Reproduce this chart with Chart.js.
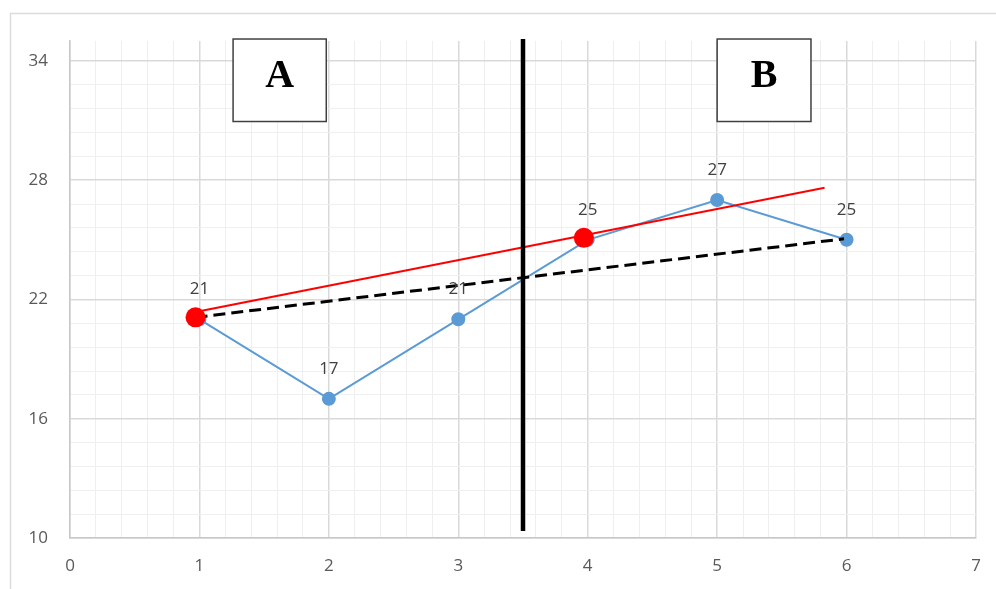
<!DOCTYPE html>
<html><head><meta charset="utf-8">
<script src="https://cdn.jsdelivr.net/npm/chart.js@4/dist/chart.umd.min.js"></script>
<style>html,body{margin:0;padding:0;background:#fff}canvas{display:block}</style>
</head><body>
<canvas id="c" width="996" height="589"></canvas>
<script>
// ---- data ----
const xValues = [1, 2, 3, 4, 5, 6];
const seriesValues = [21, 17, 21, 25, 27, 25];
const redPointX = [0.97, 3.97];
const redPointY = [21.1, 25.1];
const redLineX = [0.97, 5.83];
const redLineY = [21.37, 27.62];
const dashedLineX = [0.97, 5.98];
const dashedLineY = [21.1, 25.05];
const dividerX = [3.5, 3.5];
const dividerY = [10.35, 35.1];
const xTickLabels = [0, 1, 2, 3, 4, 5, 6, 7];
const yTickLabels = [10, 16, 22, 28, 34];
const boxLabels = ['A', 'B'];
const boxX0 = [1.26, 5.0];
const boxX1 = [1.98, 5.725];
const boxYTop = [35.1, 35.1];
const boxYBottom = [30.95, 30.95];

const pts = (xs, ys) => xs.map((x, i) => ({x, y: ys[i]}));
const FONT = "'Open Sans', 'Liberation Sans', sans-serif";

const frame = {
  id: 'frame',
  beforeDraw(chart) {
    const ctx = chart.ctx;
    ctx.save();
    ctx.strokeStyle = '#dcdcdc';
    ctx.lineWidth = 1.5;
    ctx.strokeRect(10.5, 13.5, 1100, 700);
    ctx.restore();
  }
};

const labelsPlugin = {
  id: 'dlabels',
  afterDatasetsDraw(chart) {
    const ctx = chart.ctx, xs = chart.scales.x, ys = chart.scales.y;
    ctx.save();
    ctx.fillStyle = '#404040';
    ctx.font = "17px " + FONT;
    ctx.textAlign = 'center';
    ctx.textBaseline = 'middle';
    seriesValues.forEach((v, i) => {
      ctx.fillText(String(v), xs.getPixelForValue(xValues[i]), ys.getPixelForValue(v) - 30);
    });
    ctx.restore();
  }
};

const boxesPlugin = {
  id: 'boxes',
  afterDraw(chart) {
    const ctx = chart.ctx, xs = chart.scales.x, ys = chart.scales.y;
    ctx.save();
    boxLabels.forEach((lab, i) => {
      const l = xs.getPixelForValue(boxX0[i]), r = xs.getPixelForValue(boxX1[i]);
      const t = ys.getPixelForValue(boxYTop[i]), b = ys.getPixelForValue(boxYBottom[i]);
      ctx.fillStyle = '#ffffff';
      ctx.fillRect(l, t, r - l, b - t);
      ctx.strokeStyle = '#404040';
      ctx.lineWidth = 1.5;
      ctx.strokeRect(l, t, r - l, b - t);
      ctx.fillStyle = '#000000';
      ctx.font = "bold 40px 'Liberation Serif', 'DejaVu Serif', serif";
      ctx.textAlign = 'center';
      ctx.textBaseline = 'alphabetic';
      ctx.fillText(lab, (l + r) / 2, t + 48);
    });
    ctx.restore();
  }
};

const xMinor = [];
for (let i = 0; i <= 35; i++) xMinor.push(Math.round(i * 0.2 * 100) / 100);
const yMinor = [];
for (let i = 0; i <= 20; i++) yMinor.push(Math.round((10 + i * 1.2) * 100) / 100);

const isMajor = (arr, v) => arr.some(a => Math.abs(a - v) < 1e-6);

new Chart(document.getElementById('c'), {
  type: 'scatter',
  data: {
    datasets: [
      { data: pts(dividerX, dividerY), showLine: true, borderColor: '#000', borderWidth: 4.5, pointRadius: 0, clip: false, borderCapStyle: 'butt' },
      { data: pts(redPointX, redPointY), showLine: false, pointRadius: 10, pointBackgroundColor: '#ff0000', pointBorderColor: '#ff0000', borderWidth: 0 },
      { data: pts(redLineX, redLineY), showLine: true, borderColor: '#ff0000', borderWidth: 2, pointRadius: 0 },
      { data: pts(dashedLineX, dashedLineY), showLine: true, borderColor: '#000', borderWidth: 3, borderDash: [12, 6], pointRadius: 0 },
      { data: pts(xValues, seriesValues), showLine: true, borderColor: '#5b9bd5', borderWidth: 2, pointRadius: 6, pointBackgroundColor: '#5b9bd5', pointBorderColor: '#5b9bd5' }
    ]
  },
  options: {
    responsive: false,
    animation: false,
    devicePixelRatio: 1,
    layout: { padding: { top: 41, right: 20, left: 0, bottom: 0 } },
    plugins: { legend: { display: false }, tooltip: { enabled: false } },
    scales: {
      x: {
        type: 'linear', min: 0, max: 7,
        afterBuildTicks: s => { s.ticks = xMinor.map(v => ({value: v})); },
        afterFit: s => { s.height = 51; s.paddingRight = 4; s.paddingLeft = 0; },
        ticks: {
          autoSkip: false, maxRotation: 0, padding: 18,
          color: '#595959', font: { family: FONT, size: 17 },
          callback: v => isMajor(xTickLabels, v) ? String(Math.round(v)) : ''
        },
        grid: {
          drawTicks: false,
          color: c => isMajor(xTickLabels, c.tick.value) ? '#d9d9d9' : '#efefef',
          lineWidth: c => isMajor(xTickLabels, c.tick.value) ? 1.5 : 1
        },
        border: { color: '#c8c8c8', width: 1.5 }
      },
      y: {
        type: 'linear', min: 10, max: 35,
        afterBuildTicks: s => { s.ticks = yMinor.map(v => ({value: v})); },
        afterFit: s => { s.width = 70; },
        ticks: {
          autoSkip: false, padding: 22,
          color: '#595959', font: { family: FONT, size: 17 },
          callback: v => isMajor(yTickLabels, v) ? String(Math.round(v)) : ''
        },
        grid: {
          drawTicks: false,
          color: c => isMajor(yTickLabels, c.tick.value) ? '#d9d9d9' : '#efefef',
          lineWidth: c => isMajor(yTickLabels, c.tick.value) ? 1.5 : 1
        },
        border: { color: '#c8c8c8', width: 1.5 }
      }
    }
  },
  plugins: [frame, labelsPlugin, boxesPlugin]
});
</script>
</body></html>
